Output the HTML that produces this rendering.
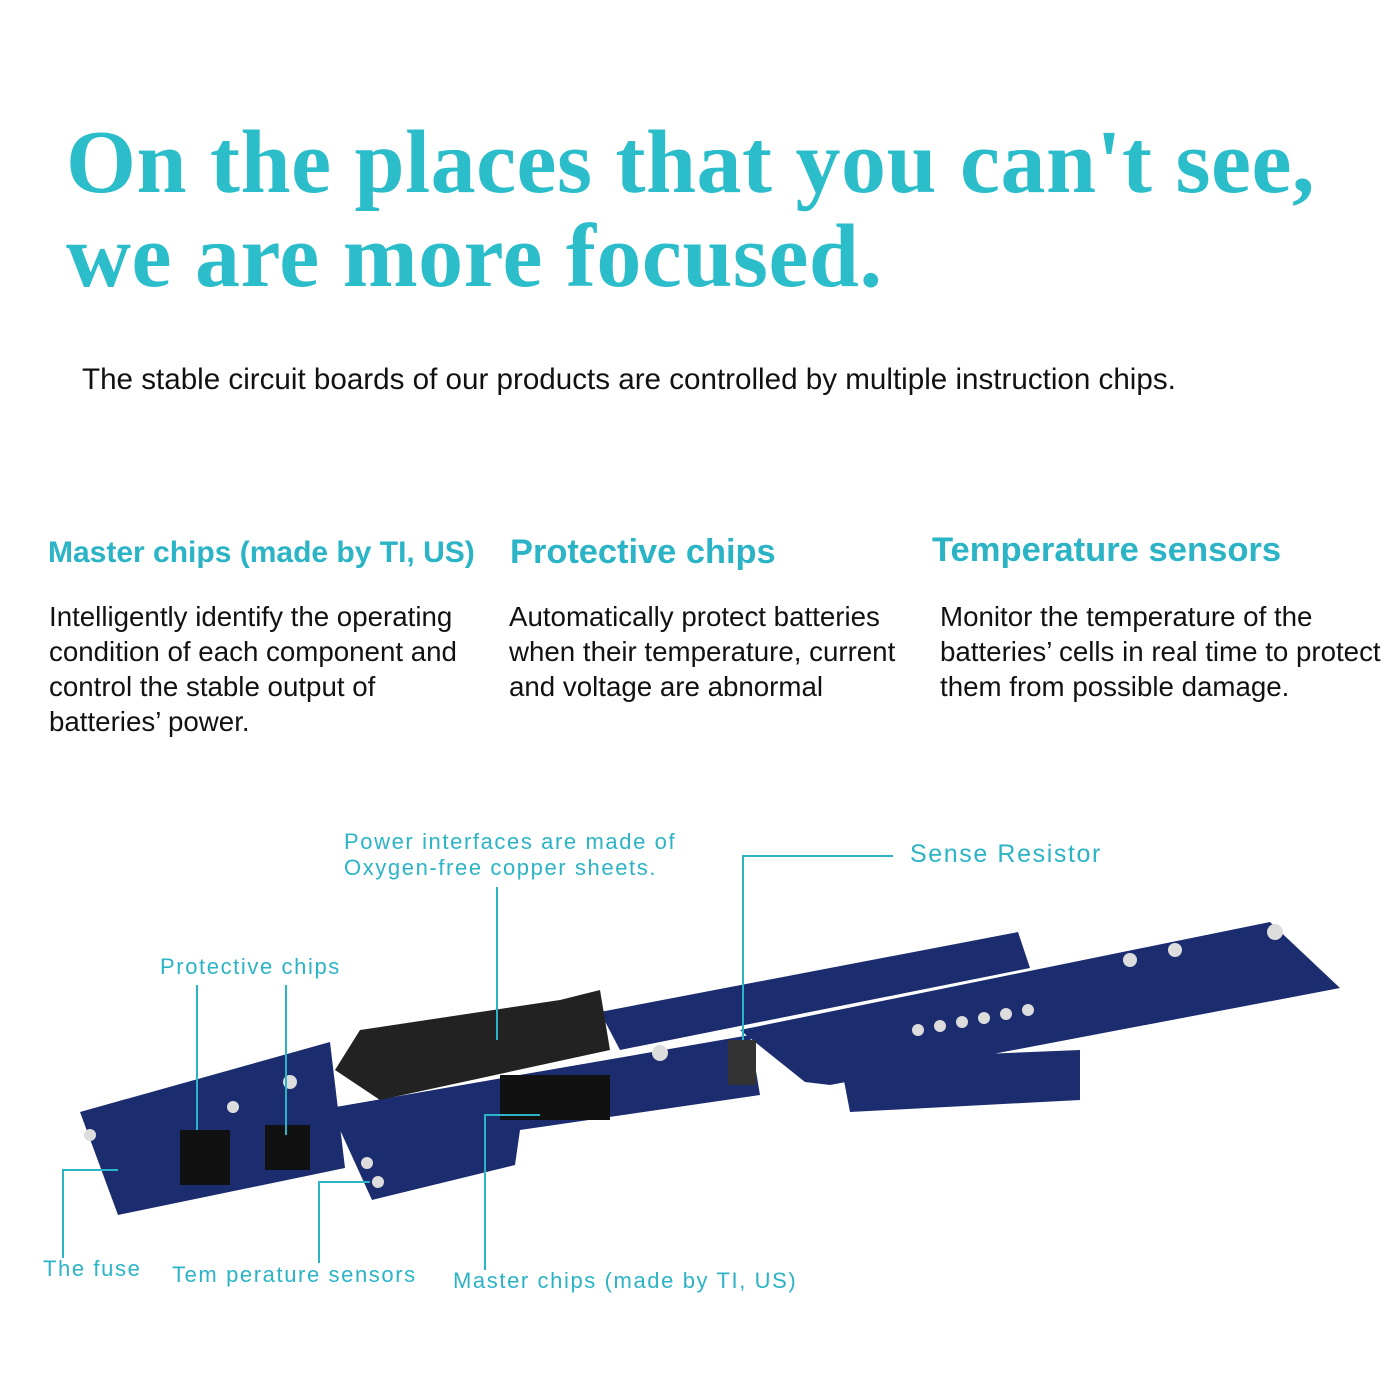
<!DOCTYPE html>
<html><head><meta charset="utf-8"><style>
body{margin:0;width:1400px;height:1400px;background:#fff;position:relative;overflow:hidden;font-family:"Liberation Sans",sans-serif}
.t{position:absolute;left:66px;font-family:"Liberation Serif",serif;font-weight:bold;color:#2bbdca;font-size:90px;line-height:1;white-space:nowrap;letter-spacing:0.5px}
.p{position:absolute;color:#111;font-size:27.7px;line-height:35px;white-space:nowrap}
.h{position:absolute;color:#2bb3c6;font-size:30px;font-weight:bold;white-space:nowrap}
.l{position:absolute;color:#2bb3c6;font-size:22px;letter-spacing:1.6px;white-space:nowrap}
</style></head><body>
<div class="t" style="top:118px">On the places that you can't see,</div>
<div class="t" style="top:212px">we are more focused.</div>
<div class="p" style="left:82px;top:362px;font-size:29.6px">The stable circuit boards of our products are controlled by multiple instruction chips.</div>
<div class="h" style="left:48px;top:536px;font-size:30px">Master chips (made by TI, US)</div>
<div class="h" style="left:510px;top:533px;font-size:34.4px">Protective chips</div>
<div class="h" style="left:932px;top:531px;font-size:34.6px">Temperature sensors</div>
<div class="p" style="left:49px;top:599px">Intelligently identify the operating<br>condition of each component and<br>control the stable output of<br>batteries’ power.</div>
<div class="p" style="left:509px;top:599px">Automatically protect batteries<br>when their temperature, current<br>and voltage are abnormal</div>
<div class="p" style="left:940px;top:599px">Monitor the temperature of the<br>batteries’ cells in real time to protect<br>them from possible damage.</div>
<svg width="1400" height="1400" style="position:absolute;left:0;top:0">
<g fill="#1b2d6e">
<polygon points="600,1012 1018,932 1030,968 620,1050"/>
<polygon points="840,1060 1080,1050 1080,1100 850,1112"/>
<polygon points="80,1112 330,1042 345,1168 118,1215"/>
<polygon points="330,1108 750,1035 760,1095 520,1130 515,1165 372,1200"/>
<polygon points="740,1030 1270,922 1340,988 830,1085 805,1082"/>
</g>
<g fill="#222">
<polygon points="335,1070 360,1030 560,1000 600,990 610,1050 380,1100"/>
<rect x="500" y="1075" width="110" height="45" fill="#111"/>
<rect x="180" y="1130" width="50" height="55" fill="#111"/>
<rect x="265" y="1125" width="45" height="45" fill="#111"/>
<rect x="728" y="1040" width="28" height="45" fill="#333"/>
</g>
<g fill="#ddd"><circle cx="660" cy="1053" r="8"/><circle cx="1275" cy="932" r="8"/><circle cx="1175" cy="950" r="7"/><circle cx="1130" cy="960" r="7"/><circle cx="918" cy="1030" r="6"/><circle cx="940" cy="1026" r="6"/><circle cx="962" cy="1022" r="6"/><circle cx="984" cy="1018" r="6"/><circle cx="1006" cy="1014" r="6"/><circle cx="1028" cy="1010" r="6"/><circle cx="90" cy="1135" r="6"/><circle cx="233" cy="1107" r="6"/><circle cx="290" cy="1082" r="7"/><circle cx="367" cy="1163" r="6"/><circle cx="378" cy="1182" r="6"/></g>
<g stroke="#2bb3c6" stroke-width="2" fill="none">
<polyline points="497,887 497,1040"/>
<polyline points="893,856 743,856 743,1040"/>
<polyline points="197,985 197,1130"/>
<polyline points="286,985 286,1135"/>
<polyline points="63,1258 63,1170 118,1170"/>
<polyline points="319,1263 319,1182 370,1182"/>
<polyline points="485,1270 485,1115 540,1115"/>
</g>
</svg>
<div class="l" style="left:344px;top:829px">Power interfaces are made of<br>Oxygen-free copper sheets.</div>
<div class="l" style="left:910px;top:840px;font-size:25px">Sense Resistor</div>
<div class="l" style="left:160px;top:954px">Protective chips</div>
<div class="l" style="left:43px;top:1256px">The fuse</div>
<div class="l" style="left:172px;top:1262px">Tem perature sensors</div>
<div class="l" style="left:453px;top:1268px">Master chips (made by TI, US)</div>
</body></html>
